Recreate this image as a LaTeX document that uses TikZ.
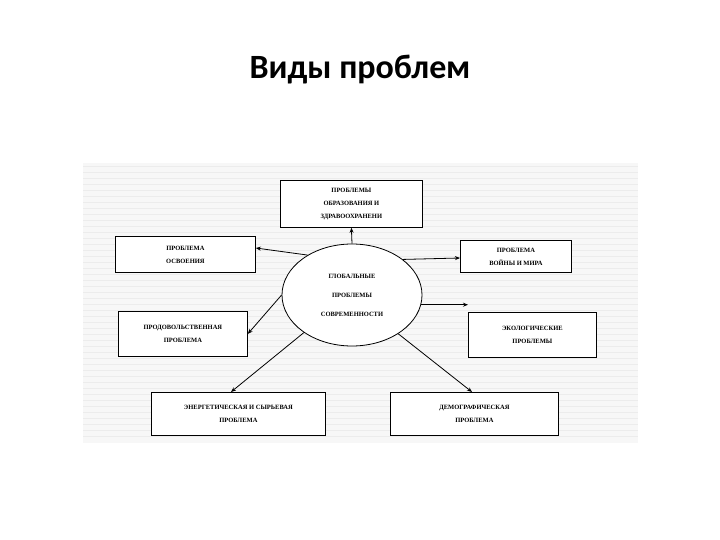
\documentclass[tikz,border=0pt]{standalone}
\usepackage{fontspec}
\setmainfont{Liberation Serif}
\newfontfamily\titlefont{Carlito}
\usetikzlibrary{arrows.meta,shapes.geometric}
\begin{document}
\begin{tikzpicture}[x=1pt,y=-1pt,
  bx/.style={draw,line width=0.8pt,fill=white,align=center,font=\bfseries\fontsize{6.5}{13}\selectfont,inner sep=2pt,anchor=north west},
  ar/.style={-{Stealth[length=5pt,width=4pt]},line width=0.8pt}]
\useasboundingbox (0,0) rectangle (720,540);
\fill[gray!6] (83,163) rectangle (638,443);
\foreach \y in {166,172,...,440} \draw[gray!15,line width=0.4pt] (83,\y) -- (638,\y);
\node[font=\titlefont\bfseries\fontsize{34}{40}\selectfont] (title) at (360,70) {Виды проблем};
\node[bx,minimum width=142pt,minimum height=47pt] (top) at (280,180) {ПРОБЛЕМЫ\\ОБРАЗОВАНИЯ И\\ЗДРАВООХРАНЕНИ};
\node[bx,minimum width=140pt,minimum height=36pt] (osv) at (115,236) {ПРОБЛЕМА\\ОСВОЕНИЯ};
\node[bx,minimum width=111pt,minimum height=32pt] (war) at (460,240) {ПРОБЛЕМА\\ВОЙНЫ И МИРА};
\node[bx,minimum width=129pt,minimum height=45pt] (food) at (118,311) {ПРОДОВОЛЬСТВЕННАЯ\\ПРОБЛЕМА};
\node[bx,minimum width=128pt,minimum height=45pt] (eco) at (468,312) {ЭКОЛОГИЧЕСКИЕ\\ПРОБЛЕМЫ};
\node[bx,minimum width=174pt,minimum height=43pt] (en) at (151,392) {ЭНЕРГЕТИЧЕСКАЯ И СЫРЬЕВАЯ\\ПРОБЛЕМА};
\node[bx,minimum width=168pt,minimum height=43pt] (dem) at (390,392) {ДЕМОГРАФИЧЕСКАЯ\\ПРОБЛЕМА};
\node[draw,line width=0.8pt,fill=white,ellipse,inner sep=0pt,minimum width=140pt,minimum height=102pt,align=center,font=\bfseries\fontsize{6.5}{19}\selectfont] (c) at (352,295) {ГЛОБАЛЬНЫЕ\\ПРОБЛЕМЫ\\СОВРЕМЕННОСТИ};
\coordinate (osvE) at ([yshift=-12pt]osv.north east);
\coordinate (warW) at ([yshift=-18pt]war.north west);
\coordinate (enN) at ([xshift=80pt]en.north west);
\coordinate (demN) at ([xshift=82pt]dem.north west);
\draw[ar] (c.north) -- (top.south);
\draw[ar] (c.138) -- (osvE);
\draw[ar] (c.35) -- (warW);
\draw[ar] (c.west) -- (food.east);
\draw[ar] (c.-8) -- (eco.west |- c.-8);
\draw[ar] (c.218) -- (enN);
\draw[ar] (c.320) -- (demN);
\end{tikzpicture}
\end{document}
